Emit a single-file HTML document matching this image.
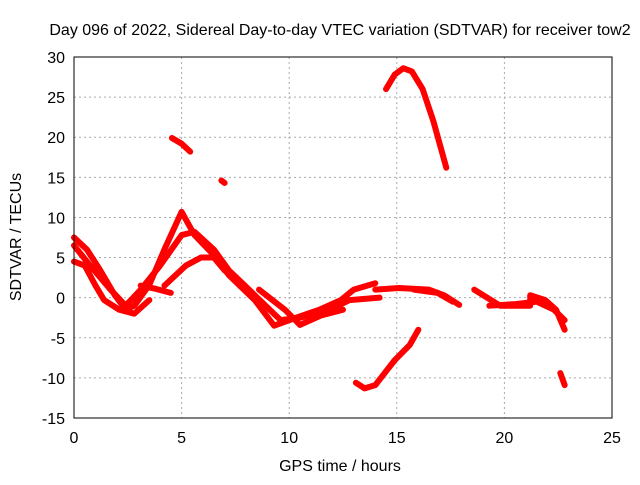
<!DOCTYPE html>
<html><head><meta charset="utf-8"><style>
body{margin:0;background:#fff}
svg text{font-family:"Liberation Sans",sans-serif;font-size:16px;fill:#000}
</style></head><body>
<svg id="chart" width="640" height="480" xmlns="http://www.w3.org/2000/svg">
<text x="340" y="35" text-anchor="middle">Day 096 of 2022, Sidereal Day-to-day VTEC variation (SDTVAR) for receiver tow2</text>
<text x="340" y="471" text-anchor="middle">GPS time / hours</text>
<text x="21" y="237" text-anchor="middle" transform="rotate(-90 21 237)">SDTVAR / TECUs</text>
<g id="grid"></g><g id="ticks"></g><g id="marks"></g>
<rect x="74" y="57" width="538" height="361" fill="none" stroke="#000" stroke-width="1"/>
</svg>
<script>
const xTicks=[0,5,10,15,20,25];
const yTicks=[-15,-10,-5,0,5,10,15,20,25,30];
const trackTopArc=[[14.5,26],[14.9,27.8],[15.3,28.6],[15.7,28.2],[16.2,26],[16.7,22],[17.3,16.2]];
const trackSmall1=[[4.55,19.9],[5.0,19.2],[5.4,18.2]];
const trackSmall2=[[6.85,14.6],[7.0,14.3]];
const trackBottomArc=[[13.1,-10.6],[13.5,-11.3],[14,-10.9],[14.9,-7.8],[15.6,-5.9],[16,-4]];
const trackSmall3=[[22.6,-9.4],[22.8,-10.9]];
const trackA=[[0,7.5],[0.6,6],[1.2,3.5],[1.9,0.3],[2.4,-1.5],[2.8,-1],[3.5,1.6],[4.2,6],[5,10.7],[5.6,7.8],[6.5,5.3],[7.2,2.8],[8.4,-0.3],[9.3,-3.5],[10,-2.8],[11.4,-1.5],[12.4,-0.3],[13,1],[14,1.8]];
const trackB=[[0,6.5],[0.75,4],[1.7,1],[2.4,-1],[3.1,1],[4,4],[5,7.8],[5.6,8.2],[6.5,6],[7.2,3.4],[7.9,1.6],[8.9,-1],[9.6,-2.8],[10.5,-2.5],[11.9,-1.5],[12.8,-0.3],[14.2,0]];
const trackC=[[0,4.5],[0.5,4],[1,1.5],[1.4,-0.3],[2.1,-1.5],[2.8,-2],[3.5,-0.3]];
const trackC2=[[3.1,1.5],[3.8,1.1],[4.5,0.6]];
const trackD=[[4.2,1.5],[5.2,4],[5.9,5],[6.5,5],[7,3.4],[7.7,2]];
const trackE=[[8.6,1],[9.8,-1.5],[10.5,-3.4],[11.5,-2.2],[12.5,-1.5]];
const trackF=[[14,1],[15.1,1.2],[16.5,1],[17.2,0.3],[17.9,-0.9]];
const trackG=[[15.8,1],[16.9,0.6],[17.6,-0.5]];
const trackH=[[18.6,1],[19.8,-1],[21.2,-1],[21.2,0.3],[21.9,-0.3],[22.4,-1.5],[22.8,-4]];
const trackI=[[19.3,-1],[20.5,-0.8],[21.5,-0.5],[22.3,-1.5],[22.8,-2.8]];
const tracks=[trackTopArc,trackSmall1,trackSmall2,trackBottomArc,trackSmall3,trackA,trackB,trackC,trackC2,trackD,trackE,trackF,trackG,trackH,trackI];
const X=t=>74+t*538/25, Y=v=>418-(v+15)*361/45;
const NS="http://www.w3.org/2000/svg";
const grid=document.getElementById('grid'),tk=document.getElementById('ticks'),mk=document.getElementById('marks');
function mkEl(tag,attrs,parent){const e=document.createElementNS(NS,tag);for(const k in attrs)e.setAttribute(k,attrs[k]);parent.appendChild(e);return e;}
xTicks.forEach(t=>{
 const g=mkEl('line',{x1:X(t),x2:X(t),y1:57,y2:418,stroke:'#aaa','stroke-dasharray':'2,3'},grid);
 
 
 const l=mkEl('text',{x:X(t),y:443,'text-anchor':'middle'},tk);l.textContent=t;
 
 
});
yTicks.forEach(v=>{
 const g=mkEl('line',{x1:74,x2:612,y1:Y(v),y2:Y(v),stroke:'#aaa','stroke-dasharray':'2,3'},grid);
 
 
 const l=mkEl('text',{x:65,y:Y(v)+6,'text-anchor':'end'},tk);l.textContent=v;
 
 
});
tracks.forEach(tr=>{
 const p=mkEl('polyline',{points:tr.map(d=>X(d[0])+','+Y(d[1])).join(' '),fill:'none',stroke:'#f00','stroke-width':6,'stroke-linejoin':'round','stroke-linecap':'round'},mk);
 
 
});
</script>
</body></html>
